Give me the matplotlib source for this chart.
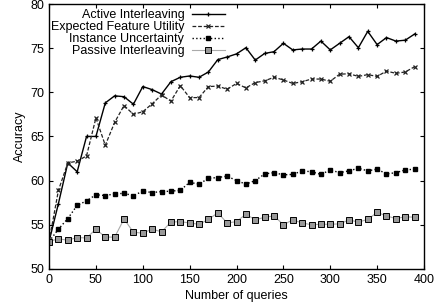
import matplotlib
matplotlib.use("Agg")
import matplotlib.pyplot as plt

plt.rcParams["font.family"] = ["Liberation Sans", "DejaVu Sans"]

queries = list(range(0, 400, 10))

active = [53.1, 57.4, 62.0, 61.0, 65.0, 65.0, 68.8, 69.6, 69.5, 68.65,
          70.65, 70.3, 69.8, 71.2, 71.7, 71.85, 71.7, 72.3, 73.7, 74.0,
          74.35, 75.05, 73.65, 74.4, 74.6, 75.55, 74.8, 74.9, 74.9, 75.8,
          74.8, 75.55, 76.3, 75.05, 76.9, 75.4, 76.2, 75.8, 75.9, 76.6]
efu = [53.1, 58.9, 62.0, 62.2, 62.8, 67.1, 64.0, 66.6, 68.5, 67.5,
       67.8, 68.7, 69.7, 69.0, 70.75, 69.4, 69.4, 70.65, 70.7, 70.35,
       71.0, 70.5, 71.1, 71.3, 71.7, 71.4, 71.0, 71.2, 71.5, 71.5,
       71.25, 72.05, 72.1, 71.8, 72.0, 71.8, 72.4, 72.15, 72.3, 72.9]
iu = [53.1, 54.5, 55.7, 57.2, 57.7, 58.4, 58.3, 58.5, 58.55, 58.3,
      58.8, 58.65, 58.75, 58.8, 58.9, 59.8, 59.6, 60.25, 60.35, 60.5,
      60.0, 59.6, 60.0, 60.75, 60.9, 60.65, 60.7, 61.1, 61.0, 60.7,
      61.2, 60.9, 61.1, 61.4, 61.1, 61.3, 60.75, 60.9, 61.2, 61.3]
passive = [53.1, 53.4, 53.25, 53.55, 53.5, 54.5, 53.6, 53.6, 55.65, 54.15,
           54.05, 54.5, 54.2, 55.3, 55.35, 55.2, 55.05, 55.6, 56.35, 55.2,
           55.35, 56.2, 55.55, 55.85, 56.0, 55.0, 55.55, 55.2, 55.0, 55.05,
           55.05, 55.1, 55.55, 55.3, 55.6, 56.4, 56.0, 55.7, 55.9, 55.85]

fig = plt.figure(figsize=(4.38, 3.08), dpi=100)
ax = fig.add_axes([0.112, 0.127, 0.856, 0.86])

ax.plot(queries, active, "-", color="black", lw=1.0, marker="+", ms=3.5,
        mew=0.9, label="Active Interleaving")
ax.plot(queries, efu, "--", color="#222222", lw=0.9, marker="x", ms=3,
        mew=0.9, dashes=(3, 1.5), label="Expected Feature Utility")
ax.plot(queries, iu, ":", color="black", lw=1.0, marker="s", ms=2.8,
        mfc="black", mec="black", label="Instance Uncertainty")
ax.plot(queries, passive, "-", color="#aaaaaa", lw=0.8, marker="s", ms=4,
        mfc="#999999", mec="black", mew=0.7, label="Passive Interleaving")

ax.set_xlim(0, 400)
ax.set_ylim(50, 80)
ax.set_xticks(range(0, 401, 50))
ax.set_yticks(range(50, 81, 5))
ax.tick_params(direction="in", top=True, right=True, labelsize=9, length=3, width=0.8)
for s in ax.spines.values():
    s.set_linewidth(1.0)
ax.set_xlabel("Number of queries", fontsize=9, labelpad=3)
ax.set_ylabel("Accuracy", fontsize=9, labelpad=3)

ax.legend(loc="upper right", bbox_to_anchor=(0.469, 0.981), frameon=False,
          markerfirst=False, fontsize=9, handlelength=2.65, handletextpad=0.6,
          labelspacing=0.0, borderaxespad=0.0, borderpad=0.0)

fig.savefig("out.png", dpi=100)
